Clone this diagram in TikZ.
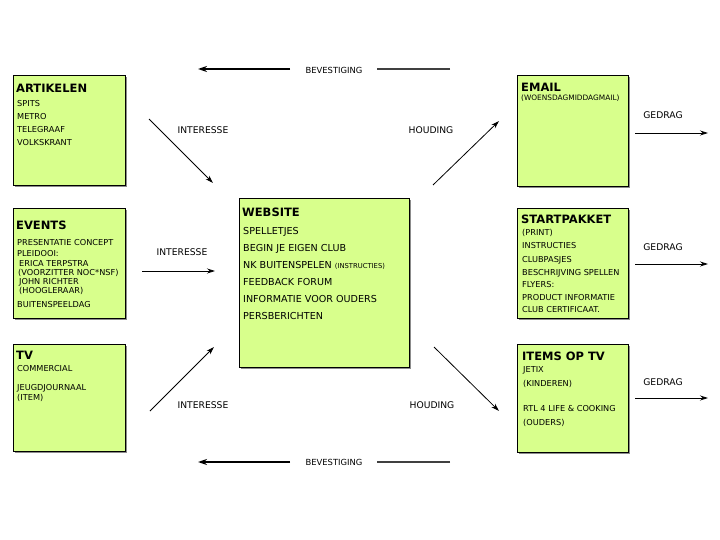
\documentclass[tikz,border=0pt]{standalone}
\usepackage{fontspec}
\setmainfont{DejaVu Sans}
\usetikzlibrary{arrows.meta}
\definecolor{boxfill}{RGB}{216,255,140}
\tikzset{
  box/.style={draw=black, line width=1pt, fill=boxfill},
  shadowbox/.style={fill=black!45},
  ttl/.style={anchor=west, inner sep=0pt, font=\bfseries\fontsize{11.5}{14}\selectfont, text height=8.4pt, text depth=0pt},
  itm/.style={anchor=west, inner sep=0pt, font=\fontsize{8.2}{9}\selectfont, text height=6pt, text depth=0pt},
  witm/.style={anchor=west, inner sep=0pt, font=\fontsize{9.6}{11}\selectfont, text height=7pt, text depth=0pt},
  lbl/.style={inner sep=1pt, font=\fontsize{9.2}{10}\selectfont},
  blbl/.style={inner sep=1pt, font=\fontsize{8.4}{10}\selectfont},
  arr/.style={-{Stealth[length=8pt,width=5pt]}, line width=0.8pt},
  barr/.style={-{Stealth[length=9pt,width=6pt]}, line width=1.4pt},
  bline/.style={line width=2.2pt, black!75},
}
\begin{document}
\begin{tikzpicture}[x=1pt,y=-1pt]
\useasboundingbox (0,0) rectangle (720,540);
% boxes
\foreach \n/\a/\b/\c/\d in {art/13/76/125/186, evt/13/209/125/318, tv/13/344/125/451, web/239/199/409/367, mail/517/76/628/187, sp/517/209/628/318, itv/517/344/628/452}{
  \fill[shadowbox] (\a+1.5,\b+1.5) rectangle (\c+1.5,\d+1.5);
  \draw[box] (\a,\b) rectangle (\c,\d);
  \coordinate (\n-nw) at (\a,\b);
  \coordinate (\n-se) at (\c,\d);
}
% ARTIKELEN
\node[ttl] (art-t) at (16,88) {ARTIKELEN};
\node[itm] (art-1) at (17,104) {SPITS};
\node[itm] (art-2) at (17,117) {METRO};
\node[itm] (art-3) at (17,130) {TELEGRAAF};
\node[itm] (art-4) at (17,143) {VOLKSKRANT};
% EVENTS
\node[ttl] (evt-t) at (16,225) {EVENTS};
\node[itm] (evt-1) at (17,242) {PRESENTATIE CONCEPT};
\node[itm] (evt-2) at (17,253) {PLEIDOOI:};
\node[itm] (evt-3) at (19,263) {ERICA TERPSTRA};
\node[itm] (evt-4) at (18,272) {(VOORZITTER NOC*NSF)};
\node[itm] (evt-5) at (19,281) {JOHN RICHTER};
\node[itm] (evt-6) at (19,290) {(HOOGLERAAR)};
\node[itm] (evt-7) at (17,304) {BUITENSPEELDAG};
% TV
\node[ttl] (tv-t) at (16,355) {TV};
\node[itm] (tv-1) at (17,368) {COMMERCIAL};
\node[itm] (tv-2) at (17,387) {JEUGDJOURNAAL};
\node[itm] (tv-3) at (17,397) {(ITEM)};
% WEBSITE
\node[ttl] (web-t) at (242,212) {WEBSITE};
\node[witm] (web-1) at (243,231) {SPELLETJES};
\node[witm] (web-2) at (243,248) {BEGIN JE EIGEN CLUB};
\node[witm] (web-3) at (243,265) {NK BUITENSPELEN {\fontsize{6.8}{8}\selectfont(INSTRUCTIES)}};
\node[witm] (web-4) at (243,282) {FEEDBACK FORUM};
\node[witm] (web-5) at (243,299) {INFORMATIE VOOR OUDERS};
\node[witm] (web-6) at (243,316) {PERSBERICHTEN};
% EMAIL
\node[ttl] (mail-t) at (521,87) {EMAIL};
\node[itm, font=\fontsize{7.4}{9}\selectfont] (mail-1) at (521,98) {(WOENSDAGMIDDAGMAIL)};
% STARTPAKKET
\node[ttl] (sp-t) at (521,219) {STARTPAKKET};
\node[itm] (sp-1) at (522,233) {(PRINT)};
\node[itm] (sp-2) at (522,245) {INSTRUCTIES};
\node[itm] (sp-3) at (522,259) {CLUBPASJES};
\node[itm] (sp-4) at (522,272) {BESCHRIJVING SPELLEN};
\node[itm] (sp-5) at (522,284) {FLYERS:};
\node[itm] (sp-6) at (522,297) {PRODUCT INFORMATIE};
\node[itm] (sp-7) at (522,309) {CLUB CERTIFICAAT.};
% ITEMS OP TV
\node[ttl] (itv-t) at (522,356) {ITEMS OP TV};
\node[itm] (itv-1) at (523,369) {JETIX};
\node[itm] (itv-2) at (523,383) {(KINDEREN)};
\node[itm] (itv-3) at (523,408) {RTL 4 LIFE \& COOKING};
\node[itm] (itv-4) at (523,422) {(OUDERS)};
% connectors
\coordinate (bt-r) at (450,69);
\coordinate (bt-l) at (198,69);
\node[blbl] (bev-t) at (334,70) {BEVESTIGING};
\draw[bline] (bt-r) -- (377,69);
\draw[barr] (290,69) -- (bt-l);
\coordinate (bb-r) at (450,462);
\coordinate (bb-l) at (198,462);
\node[blbl] (bev-b) at (334,462) {BEVESTIGING};
\draw[bline] (bb-r) -- (377,462);
\draw[barr] (290,462) -- (bb-l);
% diagonal arrows
\coordinate (a1s) at (149,119); \coordinate (a1e) at (213,183);
\draw[arr] (a1s) -- (a1e);
\node[lbl] (int-1) at (203,130) {INTERESSE};
\coordinate (a2s) at (433,185); \coordinate (a2e) at (499,121);
\draw[arr] (a2s) -- (a2e);
\node[lbl] (hou-1) at (431,130) {HOUDING};
\coordinate (a3s) at (142,271); \coordinate (a3e) at (215,271);
\draw[arr] (a3s) -- (a3e);
\node[lbl] (int-2) at (182,252) {INTERESSE};
\coordinate (a4s) at (150,411); \coordinate (a4e) at (214,347);
\draw[arr] (a4s) -- (a4e);
\node[lbl] (int-3) at (203,405) {INTERESSE};
\coordinate (a5s) at (434,347); \coordinate (a5e) at (499,411);
\draw[arr] (a5s) -- (a5e);
\node[lbl] (hou-2) at (432,405) {HOUDING};
% GEDRAG
\foreach \i/\y/\ly in {1/133/115, 2/264/247, 3/398/382}{
  \coordinate (g\i s) at (635,\y);
  \coordinate (g\i e) at (708,\y);
  \draw[arr] (g\i s) -- (g\i e);
  \node[lbl] (ged-\i) at (663,\ly) {GEDRAG};
}
\end{tikzpicture}
\end{document}
